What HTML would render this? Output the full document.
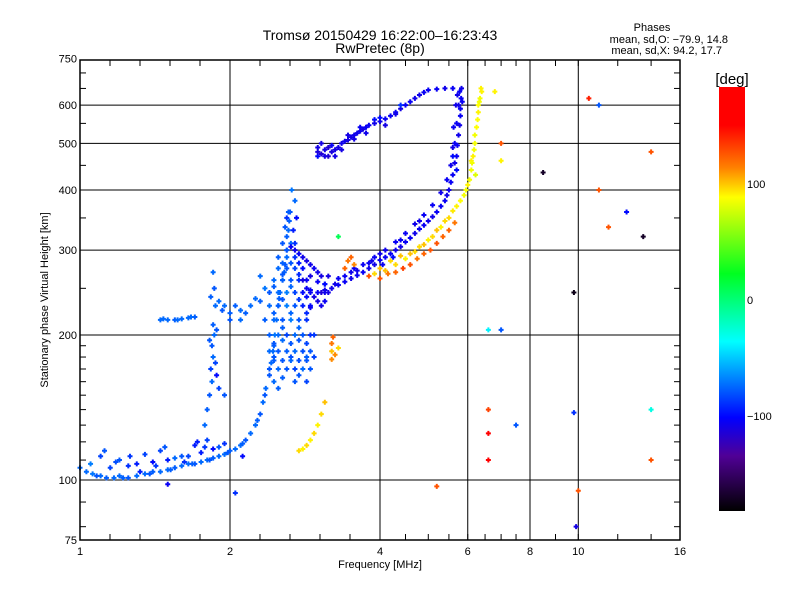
<!DOCTYPE html>
<html><head><meta charset="utf-8"><style>
body{margin:0;background:#fff}
svg text{font-family:"Liberation Sans",sans-serif;fill:#000}
</style></head><body>
<svg id="chart" width="800" height="600" xmlns="http://www.w3.org/2000/svg">
<defs>
<linearGradient id="cbar" x1="0" y1="1" x2="0" y2="0">
<stop offset="0" stop-color="#000"/>
<stop offset="0.13" stop-color="#500096"/>
<stop offset="0.22" stop-color="#0000ff"/>
<stop offset="0.40" stop-color="#00ffff"/>
<stop offset="0.56" stop-color="#00ff20"/>
<stop offset="0.74" stop-color="#ffff00"/>
<stop offset="0.81" stop-color="#ff8000"/>
<stop offset="0.91" stop-color="#ff0000"/>
<stop offset="1" stop-color="#ff0000"/>
</linearGradient>
</defs>
<text x="380" y="40" text-anchor="middle" font-size="14">Tromsø 20150429 16:22:00–16:23:43</text>
<text x="380" y="53" text-anchor="middle" font-size="14">RwPretec (8p)</text>
<g font-size="11">
<text x="652" y="31" text-anchor="middle">Phases</text>
<text x="728" y="43" text-anchor="end">mean, sd,O: −79.9, 14.8</text>
<text x="722" y="54" text-anchor="end">mean, sd,X:  94.2, 17.7</text>
</g>
<g id="grid"></g>
<g id="ticks"></g>
<g id="marks"></g>
<rect x="80" y="60" width="600" height="480" fill="none" stroke="#000" stroke-width="1.5"/>
<text x="380" y="568" text-anchor="middle" font-size="11">Frequency [MHz]</text>
<text transform="translate(48,300) rotate(-90)" text-anchor="middle" font-size="11">Stationary phase Virtual Height [km]</text>
<rect x="719" y="87" width="26" height="424" fill="url(#cbar)"/>
<text x="732" y="84" text-anchor="middle" font-size="15">[deg]</text>
<g id="cbticks" font-size="11"></g>
</svg>
<script>
const xTickVals=[1,2,4,6,8,10,16];
const yTickVals=[75,100,200,300,400,500,600,750];
const xGridVals=[2,4,6,8,10];
const yGridVals=[100,200,300,400,500,600];
const cbTickVals=[100,0,-100];
// traces: [frequency MHz, height km, phase deg]
const lowTrace=[[1.0,106,-75],[1.03,104,-75],[1.06,103,-72],[1.1,102,-75],[1.13,101,-78],[1.17,101,-75],[1.2,102,-75],[1.25,101,-80],[1.3,102,-75],[1.35,103,-75],[1.4,104,-78],[1.45,104,-75],[1.5,105,-75],[1.55,106,-78],[1.6,107,-75],[1.65,108,-75],[1.7,108,-80],[1.75,109,-75],[1.8,110,-75],[1.85,111,-78],[1.9,112,-75],[1.95,113,-75],[2.0,115,-78],[2.05,116,-75],[2.1,118,-75],[2.15,121,-80],[2.2,125,-75],[2.25,130,-75],[2.3,137,-80],[2.33,145,-75],[2.36,155,-75],[2.4,165,-80],[2.42,175,-75],[2.44,185,-75],[2.46,200,-72],[2.48,215,-75],[2.5,230,-78],[2.52,245,-75],[2.55,260,-75],[2.58,280,-80],[2.6,300,-75],[2.62,330,-75],[2.64,360,-80],[2.66,400,-72],[2.6,350,-90],[2.7,380,-75],[1.08,102,-80],[1.22,101,-78],[1.38,103,-80],[1.52,105,-78],[1.68,108,-78],[1.82,110,-80],[1.98,114,-80],[2.12,119,-78],[2.27,133,-78],[2.35,150,-80],[2.45,190,-78],[2.51,238,-78],[2.57,270,-78],[2.63,345,-78]];
const lowNoise=[[1.1,112,-85],[1.2,110,-80],[1.3,108,-95],[1.45,115,-85],[1.6,112,-80],[1.7,118,-95],[1.8,121,-85],[1.9,117,-80],[1.4,109,-100],[1.35,113,-85],[1.55,111,-75],[1.05,108,-70],[1.15,106,-85],[1.25,107,-90],[1.5,110,-95],[1.65,112,-85],[1.75,114,-95],[1.85,116,-100],[1.95,119,-90],[1.12,115,-80],[1.32,104,-95],[1.48,117,-80],[1.72,120,-95],[2.12,112,-100],[1.26,112,-88],[1.18,109,-82],[1.42,107,-88],[1.62,109,-90],[1.78,117,-88]];
const blob=[[2.4,170,-80],[2.5,170,-75],[2.6,170,-80],[2.7,170,-85],[2.8,170,-75],[2.9,170,-80],[2.4,185,-75],[2.5,185,-80],[2.6,185,-78],[2.7,185,-75],[2.8,185,-82],[2.9,185,-80],[2.4,200,-78],[2.5,200,-75],[2.6,200,-85],[2.7,200,-75],[2.8,200,-80],[2.9,200,-90],[2.35,215,-78],[2.45,215,-75],[2.55,215,-80],[2.65,215,-70],[2.75,215,-80],[2.85,215,-90],[2.4,230,-75],[2.5,230,-78],[2.6,230,-70],[2.7,230,-80],[2.8,230,-95],[2.9,230,-100],[2.4,245,-80],[2.5,245,-75],[2.6,245,-70],[2.7,245,-85],[2.8,245,-100],[2.9,245,-105],[2.45,260,-75],[2.55,260,-78],[2.65,260,-80],[2.75,260,-90],[2.85,260,-105],[2.5,275,-75],[2.6,275,-80],[2.7,275,-85],[2.8,275,-100],[2.5,290,-78],[2.6,290,-75],[2.7,290,-90],[2.55,310,-80],[2.65,310,-75],[2.58,335,-80],[2.68,330,-95],[2.62,360,-78],[2.72,350,-100],[2.45,180,-80],[2.55,195,-75],[2.65,180,-82],[2.75,195,-80],[2.85,180,-78],[2.45,160,-75],[2.7,160,-80],[2.85,160,-85],[2.5,155,-78],[2.35,250,-72],[2.3,265,-75]];
const blob2=[[2.45,177,-78],[2.55,177,-80],[2.65,177,-76],[2.75,177,-82],[2.85,177,-80],[2.45,192,-80],[2.55,207,-78],[2.65,192,-80],[2.75,207,-76],[2.85,192,-85],[2.45,222,-78],[2.55,237,-80],[2.65,222,-76],[2.75,237,-88],[2.85,222,-92],[2.45,252,-78],[2.55,267,-80],[2.65,252,-76],[2.75,267,-92],[2.85,240,-100],[2.55,282,-78],[2.65,282,-80],[2.75,282,-95],[2.6,300,-80],[2.7,310,-90],[2.6,320,-78],[2.75,165,-80],[2.55,163,-78],[2.95,180,-85],[2.95,200,-88]];
const hump=[[2.65,305,-105],[2.75,295,-105],[2.85,285,-110],[2.95,275,-105],[3.05,265,-110],[3.1,255,-105],[3.15,245,-110],[3.1,235,-105],[2.95,240,-110],[2.85,250,-105],[2.8,260,-110],[3.0,258,-105],[2.9,265,-110],[3.05,245,-115],[3.15,265,-110],[2.7,300,-108],[2.8,290,-108],[2.9,280,-108],[3.0,270,-108],[3.1,245,-108],[3.0,235,-110],[2.9,228,-105],[3.05,230,-108]];
const mainTrace=[[2.9,248,-105],[3.0,245,-105],[3.2,250,-108],[3.4,258,-105],[3.6,266,-105],[3.8,275,-108],[4.0,286,-105],[4.2,295,-105],[4.4,305,-108],[4.6,318,-105],[4.8,332,-105],[5.0,345,-108],[5.2,360,-105],[5.4,380,-105],[5.5,400,-108],[5.6,430,-105],[5.7,470,-105],[5.75,520,-108],[5.8,570,-105],[5.82,620,-105],[5.83,650,-108],[3.3,262,-105],[3.5,270,-108],[3.7,280,-105],[3.9,290,-105],[4.1,300,-108],[4.3,312,-105],[4.5,325,-105],[4.7,340,-108],[4.9,355,-105],[5.1,372,-105],[5.3,395,-108],[5.45,420,-105],[5.55,450,-108],[5.65,500,-105],[5.7,550,-105],[5.75,600,-108],[5.78,640,-105],[3.1,255,-100],[3.25,255,-108],[3.55,275,-105],[3.85,285,-108],[4.05,280,-105],[4.25,290,-100],[5.6,490,-108],[5.62,540,-105],[5.68,600,-108]];
const mainTrace2=[[3.1,248,-108],[3.3,254,-105],[3.5,262,-108],[3.7,270,-105],[3.9,280,-108],[4.1,290,-105],[4.3,300,-108],[4.5,312,-105],[4.7,325,-108],[4.9,338,-105],[5.1,352,-108],[5.3,370,-105],[5.45,390,-108],[5.55,415,-105],[5.65,455,-108],[5.72,495,-105],[5.78,545,-108],[5.8,590,-105],[5.72,630,-108],[5.85,610,-105],[5.6,470,-100],[5.7,440,-100],[3.4,265,-105],[3.6,272,-108],[3.8,282,-105],[4.0,295,-108],[4.4,315,-105],[4.8,345,-108]];
const upperTrace=[[3.0,490,-110],[3.05,475,-115],[3.1,485,-110],[3.2,480,-112],[3.3,490,-110],[3.4,505,-108],[3.5,515,-110],[3.6,525,-108],[3.7,535,-110],[3.8,545,-105],[4.0,555,-108],[4.2,570,-105],[4.4,590,-110],[4.6,610,-105],[4.8,630,-108],[5.0,645,-105],[3.05,500,-110],[3.15,470,-115],[3.25,470,-110],[3.2,495,-105],[3.45,520,-110],[3.65,540,-105],[3.9,560,-100],[4.1,545,-110],[4.3,580,-105],[5.2,648,-105],[5.4,650,-108],[5.6,650,-105],[3.0,470,-100]];
const upperTrace2=[[3.0,480,-112],[3.1,470,-110],[3.15,490,-115],[3.25,485,-110],[3.35,500,-108],[3.45,508,-110],[3.55,520,-108],[3.65,530,-108],[3.75,540,-105],[3.9,550,-108],[4.1,562,-105],[4.3,575,-108],[4.5,600,-105],[4.7,620,-108],[4.9,638,-105],[3.35,485,-110],[3.55,510,-110],[3.75,525,-108],[4.0,565,-100],[4.4,600,-90]];
const yellowTrace=[[3.9,268,95],[4.1,272,100],[4.3,280,95],[4.5,288,90],[4.7,298,95],[4.9,308,100],[5.1,320,95],[5.3,335,90],[5.5,350,95],[5.7,370,90],[5.9,390,85],[6.0,410,90],[6.1,440,85],[6.15,470,90],[6.2,500,85],[6.25,540,88],[6.3,580,90],[6.35,620,85],[6.38,650,90],[4.2,285,95],[4.6,295,100],[5.0,315,90],[5.4,345,95],[5.8,380,88],[6.05,420,85],[6.2,520,85],[6.3,600,88],[6.1,460,90],[4.0,275,100],[4.4,292,100],[4.8,305,95],[5.2,330,100],[5.6,362,92],[5.95,400,85],[6.12,455,85],[6.18,485,85],[6.28,560,88],[6.33,610,85],[6.4,640,90],[6.22,430,80]];
const orangeTrace=[[4.0,262,125],[4.3,270,120],[4.6,280,125],[4.9,295,120],[5.2,310,125],[5.5,330,120],[3.8,265,125],[4.45,275,130],[5.05,300,125],[5.35,320,120],[4.15,268,115],[4.75,288,115],[5.65,342,115]];
const leftTrace=[[1.45,215,-75],[1.5,215,-75],[1.55,215,-78],[1.6,216,-75],[1.65,217,-75],[1.7,218,-78],[1.82,150,-80],[1.84,160,-75],[1.83,170,-85],[1.85,180,-75],[1.84,190,-80],[1.86,200,-75],[1.85,210,-78],[1.87,230,-75],[1.86,250,-80],[1.85,270,-75],[1.9,235,-75],[2.0,222,-78],[2.1,225,-75],[2.2,230,-75],[2.3,235,-78],[2.1,215,-75],[2.0,215,-80],[1.95,230,-75],[1.9,155,-85],[1.95,150,-80],[1.88,165,-100],[1.78,130,-75],[1.8,140,-78],[1.47,216,-75],[1.57,215,-75],[1.67,218,-75],[1.87,175,-85],[1.82,195,-80],[1.88,205,-80],[1.83,240,-78],[2.05,230,-78],[2.15,222,-78],[2.25,238,-75],[1.93,225,-80]];
const yellowSmall=[[2.75,115,95],[2.8,116,90],[2.85,118,95],[2.9,121,90],[2.95,125,95],[3.0,130,90],[3.05,137,95],[3.1,145,100],[3.2,178,110],[3.2,185,100],[3.2,192,115],[3.22,198,120],[3.25,182,110],[3.3,188,95],[3.45,285,115],[3.5,290,120],[3.55,280,110],[3.4,275,120]];
const outliers=[[8.5,435,-170],[9.8,245,-175],[13.5,320,-170],[10.5,620,140],[11,600,-80],[12.5,360,-100],[14,480,125],[11,400,125],[11.5,335,125],[14,140,-30],[14,110,125],[9.8,138,-90],[10,95,125],[9.9,80,-110],[6.6,140,130],[6.6,125,150],[6.6,110,150],[7.0,205,-80],[6.6,205,-40],[7.5,130,-80],[5.2,97,125],[2.05,94,-90],[1.5,98,-105],[6.8,640,90],[7.0,500,125],[7.0,460,90],[3.3,320,10]];
const traces=[lowTrace,lowNoise,blob,blob2,hump,mainTrace,mainTrace2,upperTrace,upperTrace2,yellowTrace,orangeTrace,leftTrace,yellowSmall,outliers];

const NS="http://www.w3.org/2000/svg";
function xPos(f){return 80+150*Math.log2(f);}
function yPos(h){return 480-145*Math.log2(h/100);}
function cbY(v){return 300-1.16*v;}
const stops=[[-182,[0,0,0]],[-134,[80,0,150]],[-102,[0,0,255]],[-37,[0,255,255]],[24,[0,255,32]],[88,[255,255,0]],[112,[255,128,0]],[149,[255,0,0]],[200,[255,0,0]]];
function color(v){
  for(let i=0;i<stops.length-1;i++){const a=stops[i],b=stops[i+1];
    if(v<=b[0]){const t=Math.max(0,(v-a[0])/(b[0]-a[0]));
      return 'rgb('+a[1].map((c,k)=>Math.round(c+(b[1][k]-c)*t)).join(',')+')';}}
  return 'rgb(255,0,0)';
}
function line(g,x1,y1,x2,y2,w){const l=document.createElementNS(NS,'line');
  l.setAttribute('x1',x1);l.setAttribute('y1',y1);l.setAttribute('x2',x2);l.setAttribute('y2',y2);
  l.setAttribute('stroke','#000');l.setAttribute('stroke-width',w);g.appendChild(l);return l;}
function txt(g,x,y,s,anchor,size){const t=document.createElementNS(NS,'text');
  t.setAttribute('x',x);t.setAttribute('y',y);t.setAttribute('text-anchor',anchor);t.setAttribute('font-size',size);
  t.textContent=s;g.appendChild(t);return t;}
const grid=document.getElementById('grid');
xGridVals.forEach(v=>{const l=line(grid,xPos(v),60,xPos(v),540,1);

});
yGridVals.forEach(v=>{const l=line(grid,80,yPos(v),680,yPos(v),1);

});
const tk=document.getElementById('ticks');
for(let x=110;x<380;x+=30){line(tk,x,540,x,534,1);line(tk,x,60,x,66,1);}
[4.5,5,5.5,6,6.5,7,7.5,8,9,10,12,14].forEach(v=>{line(tk,xPos(v),540,xPos(v),534,1);line(tk,xPos(v),60,xPos(v),66,1);});
[80,90,110,120,130,140,150,160,170,180,190,250,350,450,550,650,700].forEach(v=>{line(tk,80,yPos(v),86,yPos(v),1);line(tk,680,yPos(v),674,yPos(v),1);});
xTickVals.forEach(v=>{const t=txt(tk,xPos(v),555,String(v),'middle',11);

});
yTickVals.forEach(v=>{const t=txt(tk,77,yPos(v)+4,String(v),'end',11);

});
const cb=document.getElementById('cbticks');
cbTickVals.forEach(v=>{const t=txt(cb,747,cbY(v)+4,v<0?'−'+Math.abs(v):String(v),'start',11);

});
const marks=document.getElementById('marks');
traces.forEach(tr=>tr.forEach(p=>{
  const x=xPos(p[0]),y=yPos(p[1]),c=color(p[2]);
  const path=document.createElementNS(NS,'path');
  path.setAttribute('d','M'+(x-2.5)+','+y+'h5M'+x+','+(y-2.5)+'v5');
  path.setAttribute('stroke',c);path.setAttribute('stroke-width','2');
  
  
  marks.appendChild(path);
}));
</script>
</body></html>
